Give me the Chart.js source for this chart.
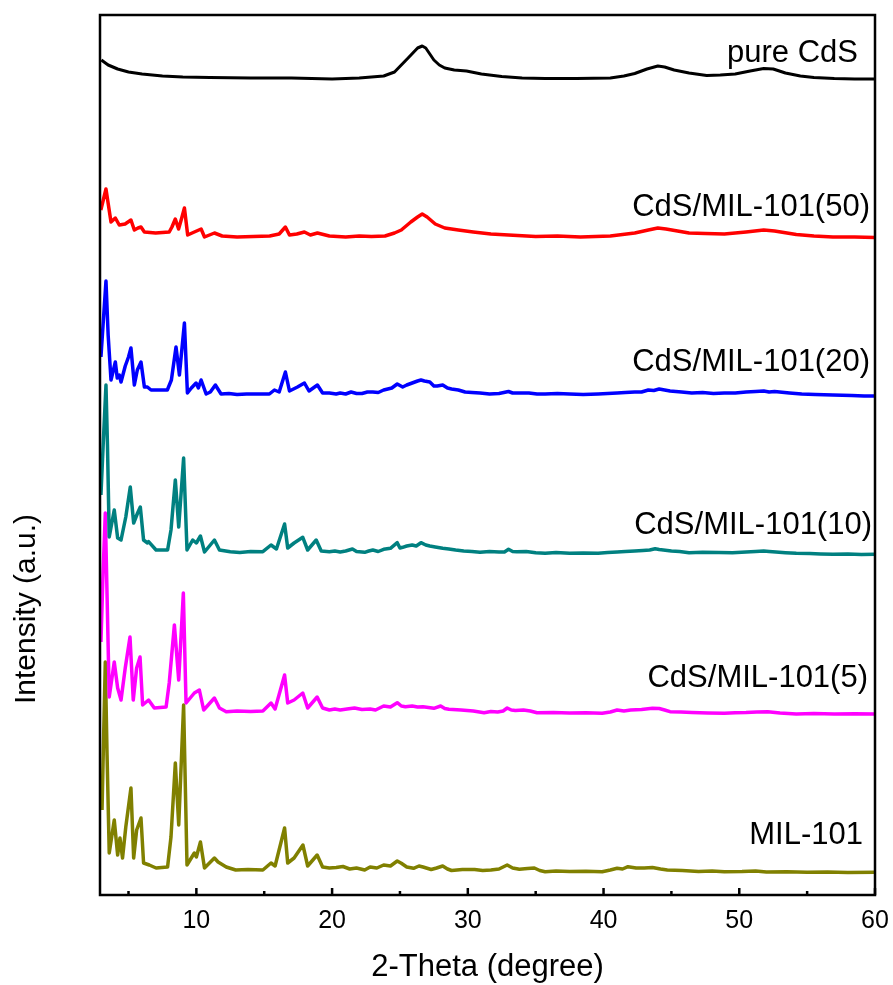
<!DOCTYPE html>
<html>
<head>
<meta charset="utf-8">
<script src="https://cdn.jsdelivr.net/npm/chart.js@4.4.0/dist/chart.umd.min.js"></script>
<style>
  html, body { margin: 0; padding: 0; background: #fff; }
  #wrap { width: 893px; height: 985px; }
</style>
</head>
<body>
<div id="wrap"><canvas id="xrdChart" width="893" height="985"></canvas></div>
<script>
// XRD patterns, stacked with a vertical offset (values already include the offset)

const seriesNames = ['pure CdS', 'CdS/MIL-101(50)', 'CdS/MIL-101(20)', 'CdS/MIL-101(10)', 'CdS/MIL-101(5)', 'MIL-101'];
const seriesColors = ['#000000', '#ff0000', '#0000ff', '#008080', '#ff00ff', '#808000'];

// [2-theta, intensity]
const pureCdS = [[3.0,835],[3.5,830],[4.2,826],[5.0,823],[6.0,821],[7.5,819],[9,818],[11,817.5],[14,817],[17,817],[20,816],[22,817],[23.8,819],[24.6,823],[25.1,830],[25.6,837],[25.95,842],[26.3,847],[26.64,849],[26.9,847],[27.2,841],[27.5,835],[27.9,830],[28.3,827],[29.0,825],[29.9,824],[31,821],[32.5,818.5],[34,817],[35.7,816.5],[38,816.5],[40.5,817],[41.5,819],[42.3,821.5],[43.2,826],[44.0,829],[44.5,828],[45.2,825],[46.3,822],[47.6,819.5],[48.6,820],[49.7,821],[50.8,824],[51.8,826.5],[52.5,826],[53.4,822],[54.5,819],[55.5,817.5],[57,816.5],[58.5,816],[60,816]];

const cdsMil50 = [[2.96,685],[3.34,706],[3.71,673],[4.03,677],[4.32,670],[4.75,671],[5.18,675],[5.43,665],[5.7,667],[5.92,668],[6.17,663],[7,662],[8.0,663],[8.2,668],[8.45,676],[8.69,666],[8.9,676],[9.12,687],[9.36,660],[9.85,663],[10.35,666],[10.6,658],[11.33,662],[11.9,659],[13,658],[14.2,658.5],[15.4,659],[16.1,661],[16.56,668],[16.86,660],[17.4,661],[17.96,663],[18.4,660],[18.92,662],[19.8,659],[21,658],[22,659],[22.9,658.5],[23.9,659],[24.6,662],[25.1,665],[25.8,673],[26.3,678],[26.64,681],[27.0,678],[27.6,671],[28.3,667],[29.3,665],[30.4,663],[31.7,661],[33,660],[35,658.5],[36.6,659],[38.3,658],[40.5,659],[42.3,662],[43.3,665],[44.0,667],[44.6,666],[46.3,662],[47.5,661.5],[48.9,661],[50.5,663],[51.8,665],[52.6,664],[54.2,660.5],[55.5,659],[56.9,658],[58.5,658],[60,657.5]];

const cdsMil20 = [[2.97,538],[3.15,575],[3.34,614],[3.5,560],[3.71,515],[4.03,533],[4.17,517],[4.32,520],[4.45,513],[4.76,529],[5.0,538],[5.18,547],[5.43,510],[5.65,525],[5.92,533],[6.17,508],[6.39,508],[6.66,505],[7.3,505],[7.86,505],[8.16,515],[8.5,548],[8.75,520],[9.12,572],[9.34,502],[9.63,507],[9.98,512],[10.15,507],[10.35,515],[10.72,501],[11.03,503],[11.4,510],[11.82,501],[12.4,501.5],[13,500.5],[13.7,501],[14.5,501],[15.38,501],[15.75,505],[16.1,503],[16.56,523],[16.86,504],[17.45,508],[17.96,512],[18.3,504],[18.92,510],[19.3,502],[19.8,502],[20.3,501],[20.6,502],[21.0,501],[21.4,503],[21.8,501.5],[22.2,501.5],[22.6,503],[23.0,503],[23.4,502.5],[23.8,505],[24.1,506],[24.4,507],[24.8,511],[25.2,508],[25.5,510],[25.9,512],[26.1,513],[26.3,514],[26.55,515],[26.8,514],[27.2,513],[27.5,509],[27.75,509],[28.15,510],[28.5,507],[28.8,506],[29.3,505],[29.8,503],[30.3,502.5],[30.9,502],[31.6,501],[32.3,501.5],[33.0,503.5],[33.3,502],[33.6,502],[34.5,502],[35.1,501],[35.7,501],[36.6,501.5],[37.5,501],[38.5,500.5],[39.6,501],[40.3,501.5],[41.0,502],[41.6,502.5],[42.3,503],[42.8,503],[43.3,505],[43.7,504.5],[44.1,506],[44.5,505],[44.9,504],[45.75,503],[46.5,502],[47.3,502.5],[48.1,501.5],[48.9,502],[49.7,502],[50.5,503],[51.2,503.5],[51.8,504],[52.2,503],[52.6,503.5],[53.7,502],[54.6,501],[55.6,500.5],[56.9,500],[58.3,499.5],[59.2,499],[60,499]];

const cdsMil10 = [[2.97,400],[3.15,455],[3.34,510],[3.45,450],[3.58,358],[3.95,385],[4.2,357],[4.45,355],[4.8,378],[5.13,408],[5.38,372],[5.67,382],[5.87,388],[6.11,355],[6.4,352],[6.48,353.3],[7.03,345],[7.88,345],[8.13,365],[8.45,415],[8.7,368],[9.06,437],[9.31,345],[9.73,355],[10.0,352],[10.3,359],[10.6,343],[11.33,355],[11.7,345],[12.5,343.3],[13.2,342.5],[14.0,343.5],[14.9,343.3],[15.5,350],[15.9,346],[16.5,371],[16.73,347],[17.2,352],[17.84,357.7],[18.2,345],[18.83,355],[19.2,344],[19.8,343.3],[20.2,344],[20.6,343],[21.0,344],[21.5,346],[21.8,343.5],[22.4,342.7],[22.7,344],[23.0,345],[23.4,343.5],[23.8,345.7],[24.3,346.7],[24.8,352.3],[25.0,347],[25.2,347.7],[25.5,349],[25.9,350],[26.2,349],[26.55,352.3],[26.9,350],[27.2,349],[27.6,348],[28.15,346.7],[28.6,346],[29.1,345],[29.7,344],[30.3,343.5],[30.9,342.7],[31.6,343.5],[32.3,343],[32.7,343],[33.0,345.7],[33.3,343.5],[33.6,343.3],[34.3,343.5],[35.0,342.3],[35.7,341.7],[36.5,342.5],[37.5,341.7],[38.5,342],[39.6,341.7],[40.3,342.5],[41.0,343],[41.6,343.5],[42.3,344],[42.9,344.5],[43.4,345],[43.8,346.3],[44.1,345.5],[44.4,345],[45.0,344],[45.6,343.5],[46.3,342.3],[47.3,342.8],[48.5,342.5],[49.5,342.3],[50.5,343],[51.2,343.5],[51.8,344],[52.2,343.5],[52.7,343],[53.4,342.3],[54.2,341.7],[55.2,341.5],[56.0,341],[56.9,340.7],[58.0,341],[59,340.5],[60,340.7]];

const cdsMil5 = [[2.97,253],[3.12,320],[3.29,382],[3.42,300],[3.58,198],[3.95,233],[4.2,207],[4.45,195],[4.76,227],[5.11,258],[5.35,195],[5.6,227],[5.85,238],[6.04,190],[6.48,195],[6.9,187],[7.77,188],[8.0,212],[8.38,270],[8.7,215],[9.04,302],[9.24,192],[9.85,202],[10.22,205],[10.54,185],[11.33,197],[11.7,187],[12.2,183.3],[13.0,184],[14.0,183.5],[14.9,184],[15.5,192],[15.8,186],[16.5,220],[16.73,192],[17.2,195],[17.84,202],[18.2,187],[18.9,198],[19.3,187],[19.8,185],[20.2,186],[20.6,185],[21.1,186],[21.65,187],[22.2,185.5],[22.8,186],[23.2,185],[23.5,187],[23.8,189],[24.3,188],[24.8,192.3],[25.1,189],[25.4,188.3],[25.9,189],[26.3,188],[26.7,188.3],[27.1,187.5],[27.5,186.7],[28.0,189],[28.3,186.5],[28.6,185.7],[29.5,185],[30.4,184],[31.2,182.3],[31.7,183.5],[32.2,183],[32.6,184],[32.9,187],[33.2,185],[33.5,184.5],[34.1,185],[34.6,184],[35.1,182.3],[36.3,182.5],[37.5,182],[38.7,182.3],[39.9,181.7],[40.5,183],[41.0,185],[41.5,184],[42.0,185],[42.8,185.5],[43.6,186.7],[44.1,186.5],[44.5,185],[44.9,183.3],[45.7,183],[46.5,182.5],[47.7,182],[48.9,181.7],[49.7,182.3],[50.5,182.5],[51.3,183],[52.1,183.3],[53.0,182],[54.2,181],[55.5,181.5],[57,181],[58.5,181.3],[60,181]];

const mil101 = [[3.05,85],[3.17,160],[3.29,233],[3.42,140],[3.58,42],[3.95,75],[4.2,40],[4.37,57],[4.56,37],[4.8,68],[5.18,107],[5.38,37],[5.6,65],[5.92,77],[6.11,32],[6.53,30],[7.03,27],[7.88,28],[8.13,58],[8.45,132],[8.7,70],[9.06,190],[9.31,30],[9.85,42],[10.0,38],[10.3,53],[10.6,27],[11.33,37],[11.6,33],[12.2,28],[12.9,25],[13.8,25.5],[14.9,25],[15.5,32],[15.8,29],[16.5,67],[16.73,32],[17.2,37],[17.85,50],[18.2,29],[18.9,40],[19.3,28],[19.8,27],[20.3,27.5],[20.8,28.5],[21.3,26],[21.8,27],[22.4,25],[22.8,28],[23.3,27],[23.8,30],[24.3,29],[24.8,34],[25.1,31.7],[25.5,28],[26.0,26.7],[26.4,29],[26.7,28],[27.3,25.5],[27.7,27],[28.15,29],[28.5,26],[28.8,24.5],[29.6,25.5],[30.5,25.5],[31.1,24.5],[31.7,25],[32.3,26],[32.9,30],[33.3,27],[33.8,25.7],[34.4,26.5],[34.9,27],[35.3,24.5],[35.7,23.3],[36.5,24],[37.5,23.5],[38.7,23.8],[39.9,23.3],[40.5,25],[41.0,26.7],[41.4,26],[41.8,28.3],[42.4,27],[43.0,27],[43.6,27.5],[44.2,26],[44.7,25],[45.8,24.5],[47,23.5],[48.0,24],[48.9,23.3],[50.2,23.5],[51.2,24],[52,23],[53.5,23.3],[55,22.7],[56.5,23],[58,22.5],[60,22.7]];

const allSeries = [pureCdS, cdsMil50, cdsMil20, cdsMil10, cdsMil5, mil101];

const majorTicks = [10, 20, 30, 40, 50, 60];
const minorTicks = [5, 15, 25, 35, 45, 55];
const xTitle = '2-Theta (degree)';
const yTitle = 'Intensity (a.u.)';

const FONT = '"Liberation Sans", Arial, sans-serif';

// label placement: [offset from right edge of plot, vertical centre px]
const labelLayout = [[17, 53], [5, 207], [5, 362], [3, 525], [7, 678], [12, 835]];

const decorPlugin = {
    id: 'decor',
    afterDraw(chart) {
        const { ctx, chartArea: a, scales } = chart;
        const xs = scales.x;
        ctx.save();
        ctx.strokeStyle = '#000';
        ctx.lineWidth = 2.5;
        ctx.strokeRect(a.left, a.top, a.right - a.left, a.bottom - a.top);

        // inward ticks on the bottom axis
        ctx.beginPath();
        majorTicks.forEach(v => {
            const px = xs.getPixelForValue(v);
            ctx.moveTo(px, a.bottom);
            ctx.lineTo(px, a.bottom - 7);
        });
        minorTicks.forEach(v => {
            const px = xs.getPixelForValue(v);
            ctx.moveTo(px, a.bottom);
            ctx.lineTo(px, a.bottom - 4);
        });
        ctx.stroke();

        // series labels
        ctx.fillStyle = '#000';
        ctx.font = `31px ${FONT}`;
        ctx.textAlign = 'right';
        ctx.textBaseline = 'middle';
        seriesNames.forEach((name, i) => {
            const [dx, y] = labelLayout[i];
            ctx.fillText(name, a.right - dx, y);
        });

        // axis titles
        ctx.font = `31px ${FONT}`;
        ctx.textAlign = 'center';
        ctx.fillText(xTitle, (a.left + a.right) / 2, 967);
        ctx.font = `30px ${FONT}`;
        ctx.translate(27, 609);
        ctx.rotate(-Math.PI / 2);
        ctx.fillText(yTitle, 0, 0);
        ctx.restore();
    }
};

const ctx = document.getElementById('xrdChart').getContext('2d');
new Chart(ctx, {
    type: 'line',
    data: {
        datasets: allSeries.map((s, i) => ({
            label: seriesNames[i],
            data: s.map(([x, y]) => ({ x, y })),
            borderColor: seriesColors[i],
            borderWidth: i === 0 ? 3 : 3.5,
            pointRadius: 0,
            tension: 0,
            borderJoinStyle: 'round',
            fill: false
        }))
    },
    options: {
        responsive: false,
        animation: false,
        layout: { padding: { left: 100, right: 18, top: 15, bottom: 0 } },
        plugins: { legend: { display: false }, tooltip: { enabled: false } },
        scales: {
            x: {
                type: 'linear',
                min: 2.9,
                max: 60,
                afterBuildTicks: s => { s.ticks = majorTicks.map(v => ({ value: v })); },
                afterFit: s => { s.height = 90; s.paddingLeft = 0; s.paddingRight = 0; },
                grid: { display: false, drawTicks: false },
                border: { display: false },
                ticks: { color: '#000', font: { family: FONT, size: 25 }, padding: 11, maxRotation: 0, autoSkip: false }
            },
            y: { display: false, min: 0, max: 880 }
        }
    },
    plugins: [decorPlugin]
});
</script>
</body>
</html>
